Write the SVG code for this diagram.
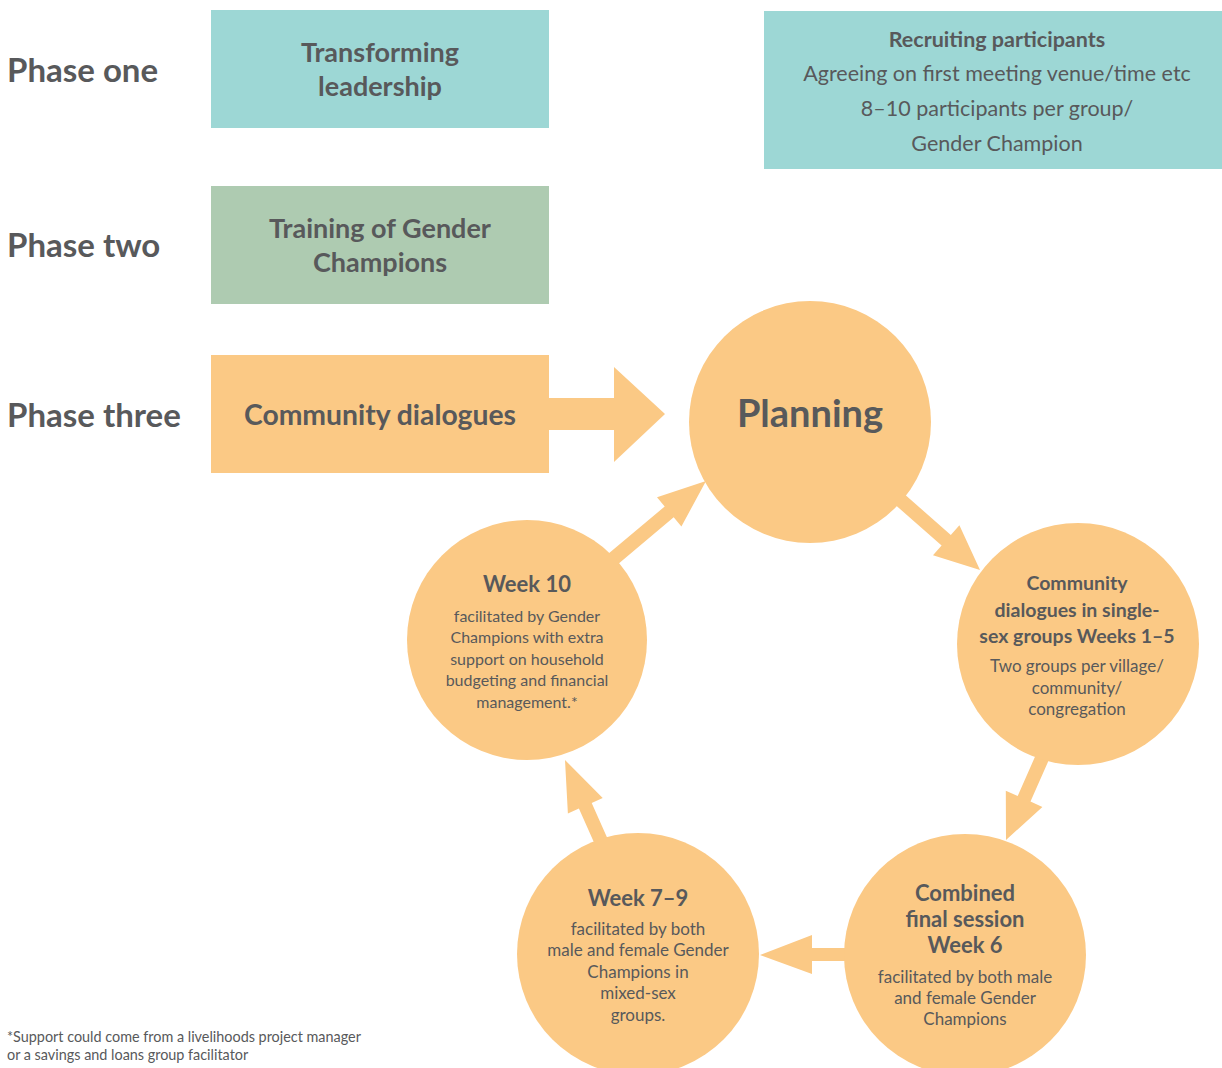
<svg xmlns="http://www.w3.org/2000/svg" width="1222" height="1068" viewBox="0 0 1222 1068">
<style>
text{font-family:Lato,"Open Sans","Liberation Sans",sans-serif;fill:#58595b;text-anchor:middle}
.st{text-anchor:start}
.ph{font-size:33px;font-weight:bold}
.bx{font-size:27px;font-weight:bold}
.bx2{font-size:28.3px;font-weight:bold}
.hd{font-size:22px;font-weight:bold}
.hs{font-size:19.5px;font-weight:bold}
.bd{font-size:17px}
.bs{font-size:16px}
.rc{font-size:21.5px}
.fn{font-size:14.4px}
.or{fill:#fbc985}
</style>
<rect width="1222" height="1068" fill="#fff"/>
<g id="labels">
<text class="ph st" x="7" y="82">Phase one</text>
<text class="ph st" x="7" y="257">Phase two</text>
<text class="ph st" x="7" y="427">Phase three</text>
</g>
<g id="connectors">
<polygon class="or" points="548,398 614,398 614,367 665,414 614,462 614,430 548,430"/>
<polygon class="or" points="875.4,487.3 941.6,545.6 933,555.3 980,570 959.4,525.3 950.8,535 884.6,476.7"/>
<polygon class="or" points="1043.6,737.2 1017.7,796 1005.8,790.8 1006,840 1042.4,806.9 1030.5,801.6 1056.4,742.8"/>
<polygon class="or" points="860,948 812,948 812,935 760,955 812,974 812,961 860,961"/>
<polygon class="or" points="611.4,847.2 591.7,802.9 602.7,798 565,760 567.9,813.4 578.9,808.5 598.6,852.8"/>
<polygon class="or" points="604.5,575.4 673.7,517.3 681.4,526.5 706,481 657,497.3 664.7,506.5 595.5,564.6"/>
</g>
<g id="transforming">
<rect x="211" y="10" width="338" height="118" fill="#9dd7d5"/>
<text class="bx" x="380" y="62">Transforming</text>
<text class="bx" x="380" y="96">leadership</text>
</g>
<g id="training">
<rect x="211" y="186" width="338" height="118" fill="#aecbb1"/>
<text class="bx" x="380" y="238">Training of Gender</text>
<text class="bx" x="380" y="272">Champions</text>
</g>
<g id="community-dialogues">
<rect class="or" x="211" y="355" width="338" height="118"/>
<text class="bx2" x="380" y="425">Community dialogues</text>
</g>
<g id="recruiting">
<rect x="764" y="11" width="458" height="158" fill="#9dd7d5"/>
<text class="rc" x="997" y="47" font-weight="bold">Recruiting participants</text>
<text class="rc" x="997" y="81">Agreeing on first meeting venue/time etc</text>
<text class="rc" x="997" y="116">8–10 participants per group/</text>
<text class="rc" x="997" y="151">Gender Champion</text>
</g>
<g id="planning">
<circle class="or" cx="810" cy="422" r="121"/>
<text x="810" y="427" font-size="38" font-weight="bold">Planning</text>
</g>
<g id="single-sex">
<circle class="or" cx="1078" cy="644" r="121"/>
<text class="hs" x="1077" y="590">Community</text>
<text class="hs" x="1077" y="617">dialogues in single-</text>
<text class="hs" x="1077" y="643">sex groups Weeks 1–5</text>
<text class="bd" x="1077" y="672">Two groups per village/</text>
<text class="bd" x="1077" y="694">community/</text>
<text class="bd" x="1077" y="715">congregation</text>
</g>
<g id="combined">
<circle class="or" cx="965" cy="955" r="121"/>
<text class="hd" x="965" y="901">Combined</text>
<text class="hd" x="965" y="927">final session</text>
<text class="hd" x="965" y="953">Week 6</text>
<text class="bd" x="965" y="983">facilitated by both male</text>
<text class="bd" x="965" y="1004">and female Gender</text>
<text class="bd" x="965" y="1025">Champions</text>
</g>
<g id="week7-9">
<circle class="or" cx="638" cy="954" r="121"/>
<text class="hd" x="638" y="906">Week 7–9</text>
<text class="bd" x="638" y="935">facilitated by both</text>
<text class="bd" x="638" y="956">male and female Gender</text>
<text class="bd" x="638" y="978">Champions in</text>
<text class="bd" x="638" y="999">mixed-sex</text>
<text class="bd" x="638" y="1021">groups.</text>
</g>
<g id="week10">
<circle class="or" cx="527" cy="640" r="120"/>
<text class="hd" x="527" y="592">Week 10</text>
<text class="bs" x="527" y="622">facilitated by Gender</text>
<text class="bs" x="527" y="643">Champions with extra</text>
<text class="bs" x="527" y="665">support on household</text>
<text class="bs" x="527" y="686">budgeting and financial</text>
<text class="bs" x="527" y="708">management.*</text>
</g>
<g id="footnote">
<text class="fn st" x="7" y="1042">*Support could come from a livelihoods project manager</text>
<text class="fn st" x="7" y="1060">or a savings and loans group facilitator</text>
</g>
</svg>
